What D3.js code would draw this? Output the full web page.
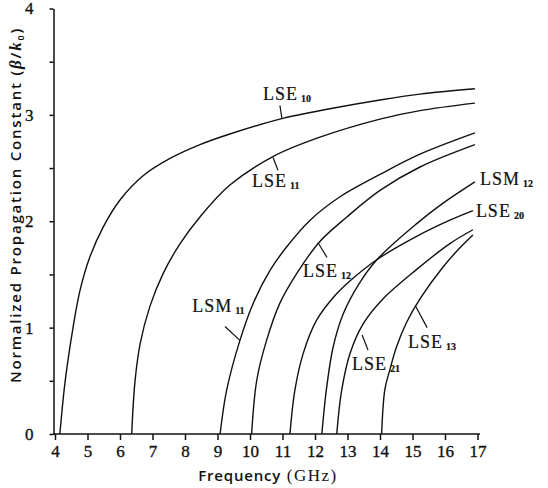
<!DOCTYPE html>
<html>
<head>
<meta charset="utf-8">
<script src="https://cdn.jsdelivr.net/npm/d3@7"></script>
<style>
  body { margin: 0; background: #fff; }
  svg { display: block; }
  .tick text { font-family: "Liberation Serif", "DejaVu Serif", serif; font-size: 17px; fill: #111; stroke: #111; stroke-width: 0.35; }
  .modelbl { font-family: "Liberation Serif", serif; font-size: 18px; letter-spacing: 1px; fill: #111; stroke: #111; stroke-width: 0.2; }
</style>
</head>
<body>
<svg id="chart" width="548" height="488"></svg>
<script>
// tick values
const xTicks = [4, 5, 6, 7, 8, 9, 10, 11, 12, 13, 14, 15, 16, 17];
const yTicks = [0, 0.5, 1, 1.5, 2, 2.5, 3, 3.5, 4];

// curves: [frequency GHz, beta/k0]
const lse10 = [[4.15,0],[4.31,0.49],[4.56,1.01],[4.77,1.35],[5.08,1.67],[5.49,1.95],[6.0,2.2],[6.72,2.43],[7.54,2.59],[8.46,2.72],[9.38,2.82],[10.92,2.96],[12.5,3.06],[14.0,3.14],[15.23,3.195],[16.92,3.245]];
const lse11 = [[6.36,0],[6.46,0.49],[6.62,0.85],[6.92,1.2],[7.33,1.51],[7.85,1.79],[8.46,2.04],[9.38,2.34],[10.72,2.61],[12.15,2.79],[14.0,2.96],[15.23,3.04],[16.92,3.11]];
const lsm11 = [[9.08,0],[9.28,0.41],[9.69,0.88],[10.1,1.23],[10.62,1.54],[11.13,1.76],[11.85,2.01],[12.77,2.23],[14.0,2.44],[15.23,2.63],[16.92,2.83]];
const lse12 = [[10.05,0],[10.21,0.51],[10.51,0.88],[10.92,1.23],[11.44,1.51],[12.15,1.81],[12.98,2.04],[14.0,2.29],[15.23,2.51],[16.92,2.72]];
const lse20 = [[11.23,0],[11.38,0.41],[11.64,0.76],[12.05,1.07],[12.67,1.32],[13.08,1.44],[13.91,1.64],[15.14,1.86],[16.15,2.01],[16.86,2.1]];
const lsm12 = [[12.21,0],[12.36,0.44],[12.56,0.82],[12.87,1.13],[13.33,1.4],[13.91,1.64],[15.14,1.98],[15.94,2.17],[16.92,2.37]];
const lse21 = [[12.67,0],[12.82,0.41],[13.08,0.76],[13.49,1.04],[14.09,1.27],[15.14,1.55],[16.15,1.79],[16.86,1.92]];
const lse13 = [[14.05,0],[14.15,0.42],[14.3,0.6],[14.51,0.82],[14.82,1.05],[15.23,1.27],[15.94,1.57],[16.46,1.75],[16.86,1.87]];

const modes = [lse10, lse11, lsm11, lse12, lse20, lsm12, lse21, lse13];

// mode labels: text, subscript, text anchor and leader line (data units)
const labels = [
  {t: 'LSE', s: '10', at: [10.4, 3.14], lead: [[10.92, 3.09], [10.98, 2.97]]},
  {t: 'LSE', s: '11', at: [10.06, 2.32], lead: [[10.86, 2.48], [10.71, 2.6]]},
  {t: 'LSM', s: '11', at: [8.22, 1.15], lead: [[9.23, 1.01], [9.69, 0.88]]},
  {t: 'LSE', s: '12', at: [11.63, 1.48], lead: [[12.37, 1.66], [12.09, 1.8]]},
  {t: 'LSE', s: '21', at: [13.14, 0.6], lead: [[13.63, 0.79], [13.45, 0.93]]},
  {t: 'LSE', s: '13', at: [14.86, 0.81], lead: [[15.45, 1.0], [15.08, 1.21]]},
  {t: 'LSE', s: '20', at: [16.95, 2.04], lead: null},
  {t: 'LSM', s: '12', at: [17.08, 2.34], lead: null}
];

const svg = d3.select('#chart');

const x = d3.scaleLinear().domain([4, 17]).range([55, 477.5]);
const y = d3.scaleLinear().domain([0, 4]).range([434, 8.5]);

// x axis
const gx = svg.append('g').attr('transform', 'translate(0,434)')
  .call(d3.axisBottom(x).tickValues(xTicks).tickFormat(d3.format('d')).tickSize(6).tickSizeOuter(0).tickPadding(5));
gx.select('.domain').attr('d', 'M53,0H480');

// y axis, half-unit ticks, integer labels
const gy = svg.append('g').attr('transform', 'translate(53.5,0)')
  .call(d3.axisLeft(y).tickValues(yTicks).tickFormat(d => Number.isInteger(d) ? d : '').tickSize(4).tickSizeOuter(0).tickPadding(16));

svg.selectAll('.domain, .tick line').attr('stroke', '#111').attr('stroke-width', 1.5);

// curves
const line = d3.line().x(d => x(d[0])).y(d => y(d[1])).curve(d3.curveCatmullRom.alpha(0.5));
svg.append('g').selectAll('path')
  .data(modes)
  .enter()
  .append('path')
  .attr('d', line)
  .attr('fill', 'none')
  .attr('stroke', '#111')
  .attr('stroke-width', 1.4);

// leaders
svg.append('g').selectAll('line')
  .data(labels.filter(l => l.lead))
  .enter()
  .append('line')
  .attr('x1', d => x(d.lead[0][0])).attr('y1', d => y(d.lead[0][1]))
  .attr('x2', d => x(d.lead[1][0])).attr('y2', d => y(d.lead[1][1]))
  .attr('stroke', '#111').attr('stroke-width', 1.2);

const lbl = svg.append('g').selectAll('text')
  .data(labels)
  .enter()
  .append('text')
  .attr('class', 'modelbl')
  .attr('x', d => x(d.at[0]))
  .attr('y', d => y(d.at[1]));
lbl.append('tspan').text(d => d.t);
lbl.append('tspan')
  .attr('dx', 3).attr('dy', 2)
  .attr('font-size', 10).attr('font-weight', 'bold').attr('letter-spacing', 0)
  .text(d => d.s);

// axis titles
const yt = svg.append('text')
  .attr('transform', 'translate(21,205) rotate(-90)')
  .attr('text-anchor', 'middle')
  .attr('font-family', '"Open Sans", sans-serif')
  .attr('font-size', 15)
  .attr('font-weight', 600)
  .attr('letter-spacing', 1.8)
  .attr('fill', '#111');
yt.append('tspan').text('Normalized Propagation Constant (');
yt.append('tspan').attr('font-family', '"Liberation Serif", serif').attr('font-style', 'italic').attr('font-size', 17).text('β');
yt.append('tspan').text('/');
yt.append('tspan').attr('font-family', '"Liberation Serif", serif').attr('font-style', 'italic').attr('font-size', 17).text('k');
yt.append('tspan').attr('font-size', 9).attr('dy', 3).text('0');
yt.append('tspan').attr('dy', -3).text(')');

const xt = svg.append('text')
  .attr('x', 268).attr('y', 481)
  .attr('text-anchor', 'middle')
  .attr('fill', '#111');
xt.append('tspan').attr('font-family', '"Open Sans", sans-serif').attr('font-size', 15).attr('font-weight', 600).attr('letter-spacing', 0.8).text('Frequency');
xt.append('tspan').attr('font-family', '"Liberation Serif", serif').attr('font-size', 17).attr('letter-spacing', 1.5).text('  (GHz)');
</script>
</body>
</html>
